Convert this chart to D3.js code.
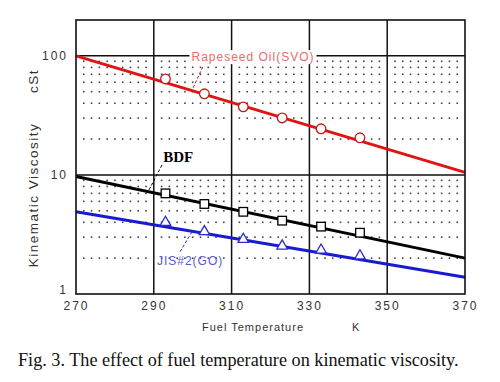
<!DOCTYPE html>
<html>
<head>
<meta charset="utf-8">
<script src="https://cdn.jsdelivr.net/npm/d3@7"></script>
<style>
  html, body { margin: 0; padding: 0; background: #fff; }
  svg { display: block; }
</style>
</head>
<body>
<svg id="chart" width="500" height="382"></svg>
<script>
// ---- data ----
const tempTicks = [270, 290, 310, 330, 350, 370];
const viscTicks = [1, 10, 100];
const fitTemps = [270, 370];
const svoFit = [100, 10.5];
const bdfFit = [9.7, 2.0];
const goFit = [4.9, 1.38];
const markerTemps = [293, 303, 313, 323, 333, 343];
const svoPoints = [64, 48, 37.3, 30.1, 24.4, 20.5];
const bdfPoints = [7.0, 5.7, 4.9, 4.13, 3.68, 3.27];
const goPoints = [4.0, 3.34, 2.88, 2.53, 2.34, 2.09];
// label text, anchor (temp, visc), leader from/to (temp, visc)
const labelTexts = ["Rapeseed Oil(SVO)", "BDF", "JIS#2(GO)"];
const labelAt = [[315.5, 96], [292.4, 12.9], [290.8, 1.86]];
const leaderFrom = [[302.6, 80.8], [292.1, 12.1], [299.8, 3.32]];
const leaderTo = [[300.1, 53.8], [288.5, 7.2], [296.7, 2.25]];

const W = 500, H = 382;
const m = { top: 20, right: 35, bottom: 88, left: 76 };
const iW = 465 - m.left, iH = 294 - m.top;

const svg = d3.select("#chart");
const g = svg.append("g").attr("transform", `translate(${m.left},${m.top})`);

const x = d3.scaleLinear().domain([270, 370]).range([0, iW]);
const y = d3.scaleLog().domain([1, 200]).range([iH, 0]);

// dotted minor grid: dots at every 2 K and at 2..9 of each decade
const minorX = d3.range(272, 370, 2).filter(t => (t - 270) % 20 !== 0);
const minorY = [];
[1, 10].forEach(dec => { for (let k = 2; k <= 9; k++) minorY.push(dec * k); });
const dots = g.append("g");
minorY.forEach(v => {
  minorX.forEach(t => {
    dots.append("rect")
      .attr("x", x(t) - 0.8).attr("y", y(v) - 0.8)
      .attr("width", 1.6).attr("height", 1.6)
      .attr("fill", "#444");
  });
});

// major grid
g.append("g").selectAll("line").data(tempTicks.slice(1, -1)).join("line")
  .attr("x1", d => x(d)).attr("x2", d => x(d))
  .attr("y1", 0).attr("y2", iH)
  .attr("stroke", "#111").attr("stroke-width", 1.5);
g.append("g").selectAll("line").data([10, 100]).join("line")
  .attr("x1", 0).attr("x2", iW)
  .attr("y1", d => y(d)).attr("y2", d => y(d))
  .attr("stroke", "#111").attr("stroke-width", 1.5);

// fitted lines
const line = d3.line().x(d => x(d[0])).y(d => y(d[1]));
[[svoFit, "#e01414"], [bdfFit, "#000"], [goFit, "#1a1ad2"]].forEach(([vals, col]) => {
  g.append("path")
    .datum(fitTemps.map((t, i) => [t, vals[i]]))
    .attr("d", line)
    .attr("fill", "none").attr("stroke", col).attr("stroke-width", 3);
});

// markers
g.append("g").selectAll("circle").data(markerTemps.map((t, i) => [t, svoPoints[i]])).join("circle")
  .attr("cx", d => x(d[0])).attr("cy", d => y(d[1])).attr("r", 4.8)
  .attr("fill", "#fff").attr("stroke", "#c21a1a").attr("stroke-width", 1.3);
g.append("g").selectAll("rect").data(markerTemps.map((t, i) => [t, bdfPoints[i]])).join("rect")
  .attr("x", d => x(d[0]) - 4.3).attr("y", d => y(d[1]) - 4.3)
  .attr("width", 8.6).attr("height", 8.6)
  .attr("fill", "#fff").attr("stroke", "#000").attr("stroke-width", 1.3);
const tri = d3.symbol().type(d3.symbolTriangle).size(48);
g.append("g").selectAll("path").data(markerTemps.map((t, i) => [t, goPoints[i]])).join("path")
  .attr("transform", d => `translate(${x(d[0])},${y(d[1])})`)
  .attr("d", tri)
  .attr("fill", "#fff").attr("stroke", "#2a2ad0").attr("stroke-width", 1.3);

// frame
g.append("rect").attr("width", iW).attr("height", iH)
  .attr("fill", "none").attr("stroke", "#111").attr("stroke-width", 1.6);

// series labels with leaders
const labelCols = ["#ee6a6a", "#000", "#5b5bd0"];
const leaderCols = ["#b01818", "#000", "#2a2ad0"];
labelTexts.forEach((txt, i) => {
  g.append("line")
    .attr("x1", x(leaderFrom[i][0])).attr("y1", y(leaderFrom[i][1]))
    .attr("x2", x(leaderTo[i][0])).attr("y2", y(leaderTo[i][1]))
    .attr("stroke", leaderCols[i]).attr("stroke-width", 1).attr("stroke-dasharray", "3,2");
});
// SVO label sits on a white patch over the 100 line
const svoT = g.append("text")
  .attr("x", x(labelAt[0][0])).attr("y", y(labelAt[0][1]))
  .attr("text-anchor", "middle").attr("dominant-baseline", "middle")
  .style("font-family", "Arial, 'Liberation Sans', sans-serif").style("font-size", "12px")
  .style("letter-spacing", "1px").style("fill", labelCols[0])
  .text(labelTexts[0]);
const bb = svoT.node().getBBox();
g.insert("rect", "text").attr("x", bb.x - 2).attr("y", bb.y).attr("width", bb.width + 4).attr("height", bb.height)
  .attr("fill", "#fff");
g.append("text")
  .attr("x", x(labelAt[1][0])).attr("y", y(labelAt[1][1]))
  .style("font-family", "'Liberation Serif', 'Times New Roman', serif").style("font-size", "15px")
  .style("font-weight", "bold").style("fill", labelCols[1])
  .text(labelTexts[1]);
g.append("text")
  .attr("x", x(labelAt[2][0])).attr("y", y(labelAt[2][1]))
  .attr("dominant-baseline", "middle")
  .style("font-family", "Arial, 'Liberation Sans', sans-serif").style("font-size", "12px")
  .style("letter-spacing", "1px").style("fill", labelCols[2])
  .text(labelTexts[2]);

// axes (labels only)
const tickFont = ax => {
  ax.select(".domain").remove();
  ax.selectAll(".tick line").remove();
  ax.selectAll(".tick text")
    .style("font-family", "Arial, 'Liberation Sans', sans-serif").style("font-size", "12px")
    .style("letter-spacing", "2px").style("fill", "#333");
};
g.append("g")
  .call(d3.axisLeft(y).tickValues(viscTicks).tickFormat(d3.format("d")).tickSize(0).tickPadding(8))
  .call(tickFont)
  .call(ax => ax.selectAll(".tick text").filter(d => d === 1).attr("dy", "-0.05em"));
g.append("g").attr("transform", `translate(0,${iH})`)
  .call(d3.axisBottom(x).tickValues(tempTicks).tickFormat(d3.format("d")).tickSize(0).tickPadding(7))
  .call(tickFont);

// axis titles
const sans = "Arial, 'Liberation Sans', sans-serif";
svg.append("text")
  .attr("transform", "translate(38,195) rotate(-90)")
  .attr("text-anchor", "middle")
  .style("font-family", sans).style("font-size", "13.5px").style("letter-spacing", "1.5px").style("fill", "#333")
  .text("Kinematic Viscosity");
svg.append("text")
  .attr("transform", "translate(38,81) rotate(-90)")
  .attr("text-anchor", "middle")
  .style("font-family", sans).style("font-size", "13.5px").style("letter-spacing", "1.5px").style("fill", "#333")
  .text("cSt");
svg.append("text")
  .attr("x", 202).attr("y", 331)
  .style("font-family", sans).style("font-size", "11px").style("letter-spacing", "1px").style("fill", "#333")
  .text("Fuel Temperature");
svg.append("text")
  .attr("x", 352).attr("y", 331)
  .style("font-family", sans).style("font-size", "11px").style("fill", "#333")
  .text("K");

// caption
svg.append("text")
  .attr("x", 18).attr("y", 366)
  .style("font-family", "'Liberation Serif', 'Times New Roman', serif").style("font-size", "18.2px")
  .style("fill", "#111")
  .text("Fig. 3. The effect of fuel temperature on kinematic viscosity.");
</script>
</body>
</html>
